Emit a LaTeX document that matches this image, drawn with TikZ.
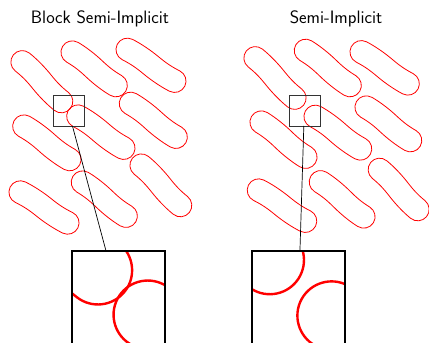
\documentclass[tikz,border=0pt]{standalone}
\usepackage{fontspec}
\usetikzlibrary{spy}

\definecolor{vesred}{HTML}{FF0000}

% vesicle outline: end radius, end tilt, mid tilt, handle length
\def\vr{11.4}
\def\vphi{7}
\def\vpsi{6}
\def\vk{9.5}

% \vesicle{x}{y}{angle below horizontal}{half length}
\newcommand\vesicle[4]{%
  \pgfmathsetmacro\vsp{\vr*sin(\vphi)}\pgfmathsetmacro\vcp{\vr*cos(\vphi)}%
  \pgfmathsetmacro\vss{\vr*sin(\vpsi)}\pgfmathsetmacro\vcs{\vr*cos(\vpsi)}%
  \pgfmathsetmacro\vL{#4-0.4}%
  \draw[vesicle line, shift={(#1,#2)}, rotate=-#3]
    (-\vL-\vsp,-\vcp) .. controls +(-\vphi:\vk) and +(180+\vpsi:\vk) .. (\vss,-\vcs)
    .. controls +(\vpsi:\vk) and +(180-\vphi:\vk) .. (\vL-\vsp,-\vcp)
    arc[start angle=-90-\vphi, end angle=90-\vphi, radius=\vr]
    .. controls +(180-\vphi:\vk) and +(\vpsi:\vk) .. (-\vss,\vcs)
    .. controls +(180+\vpsi:\vk) and +(-\vphi:\vk) .. (-\vL+\vsp,\vcp)
    arc[start angle=90-\vphi, end angle=270-\vphi, radius=\vr] -- cycle;}

\begin{document}
\begin{tikzpicture}[x=1pt, y=-1pt,
  font=\sffamily\fontsize{18}{21}\selectfont,
  vesicle line/.style={draw=vesred, line width=0.8pt, line join=round},
  ptitle/.style={anchor=base, text=black},
]
\useasboundingbox (0,0) rectangle (429,343);

% ===== titles =====
\node[ptitle] (titleL) at (100,23.3) {Block Semi-Implicit};
\node[ptitle] (titleR) at (336,23.3) {Semi-Implicit};

\begin{scope}[spy using outlines={rectangle, magnification=3, size=93pt,
    every spy on node/.append style={draw=black!80, line width=0.6pt},
    every spy in node/.append style={draw=black, line width=1.3pt},
    spy connection path={\draw[black, line width=0.7pt] (tikzspyonnode) -- (tikzspyinnode);}}]

% ===== left panel =====
\vesicle{41.85}{81.7}{45.2}{28.2}
\vesicle{94.15}{68.85}{37.3}{27.8}
\vesicle{151}{65.3}{33.7}{28.8}
\vesicle{100.85}{132.15}{34.9}{28.2}
\vesicle{153.3}{120.3}{36.5}{28.6}
\vesicle{46.85}{142.85}{36.0}{28.6}
\vesicle{44}{207.5}{32.9}{28.6}
\vesicle{104.3}{199.15}{37.9}{27.9}
\vesicle{160.85}{185.35}{45.7}{28.4}

% ===== right panel =====
\vesicle{275}{78}{45.4}{28.5}
\vesicle{327.8}{68}{38.2}{28.6}
\vesicle{384.65}{67.85}{34.3}{28.6}
\vesicle{337.85}{132.65}{35.6}{28.1}
\vesicle{388.35}{123.85}{37.0}{28}
\vesicle{283.5}{139.65}{38.1}{28.6}
\vesicle{282}{205.65}{33.4}{28.4}
\vesicle{342.15}{199.35}{38.9}{28.1}
\vesicle{398.65}{189.5}{46.2}{28}

% ===== magnified views =====
\spy on (68.3,110.5) in node at (118.5,297.5);
\spy on (304.3,110.5) in node at (298.5,297.5);
\end{scope}
\end{tikzpicture}
\end{document}
